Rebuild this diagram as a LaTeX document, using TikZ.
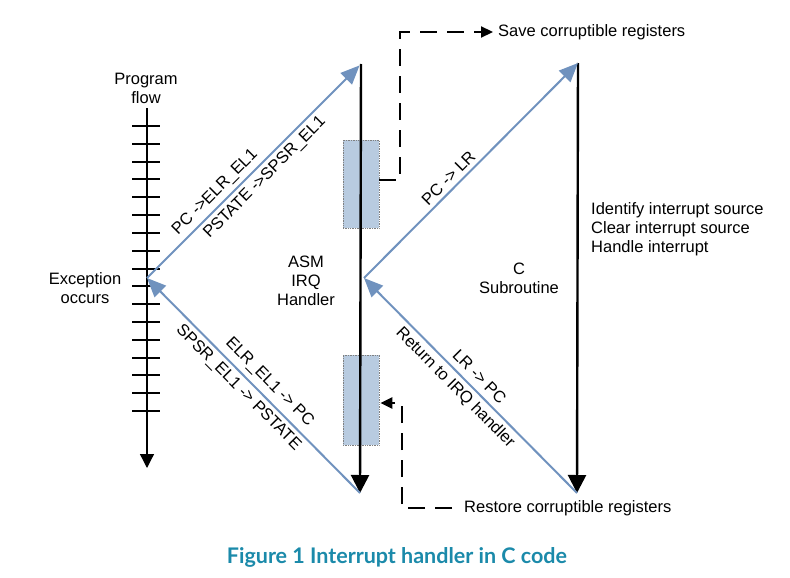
\documentclass[tikz,border=0pt]{standalone}
\usepackage{fontspec}
\setmainfont{Liberation Sans}
\newfontfamily\capfont{Lato}
\usetikzlibrary{arrows.meta}
\definecolor{flowblue}{RGB}{112,146,190}
\definecolor{boxblue}{RGB}{184,203,224}
\definecolor{capteal}{RGB}{27,138,170}
\tikzset{
  txt/.style={font=\fontsize{16.5}{19}\selectfont, inner sep=1pt},
  blueflow/.style={draw=flowblue, line width=2pt, >={Triangle[length=19pt,width=16pt]}},
  blackflow/.style={draw=black, line width=2.4pt, >={Triangle[length=18pt,width=18pt]}},
  tick/.style={line width=2pt},
  savebox/.style={fill=boxblue, draw=gray, densely dotted, line width=0.7pt},
  regflow/.style={line width=2.2pt, dash pattern=on 17pt off 10pt, -{Triangle[length=12pt,width=11pt]}},
}
\begin{document}
\begin{tikzpicture}[x=1pt, y=-1pt]
  \useasboundingbox (0,0) rectangle (790,578);
  % points
  \coordinate (flowtop) at (147,108);
  \coordinate (flowbot) at (147,468);
  \coordinate (exc) at (147,278);
  \coordinate (asmtop) at (361,64);
  \coordinate (asmbot) at (360,493);
  \coordinate (cret) at (364,278);
  \coordinate (ctop) at (578,63);
  \coordinate (cbot) at (577,493);
  % program flow
  \draw[blackflow, line width=1.3pt, >={Triangle[length=14pt,width=14pt]}, ->] (flowtop) -- (flowbot);
  \foreach \k in {0,...,16}
    \draw[tick] (132,{126+17.82*\k}) -- (160,{126+17.82*\k});
  \node[txt, align=center] (flowlbl) at (146,88) {Program\\flow};
  \node[txt, align=center] (exclbl) at (85,288) {Exception\\occurs};
  % save / restore boxes
  \node[savebox, minimum width=36pt, minimum height=88pt] (savebx) at (361,184) {};
  \node[savebox, minimum width=36pt, minimum height=90pt] (restbx) at (361,400) {};
  % asm handler
  \draw[blackflow, ->] (asmtop) -- (asmbot);
  \draw[blueflow, ->, shorten >=2pt] (exc) -- (asmtop)
    node[txt, pos=0.36, sloped, above=3pt] (pclbl) {PC ->ELR\_EL1}
    node[txt, pos=0.51, sloped, below=3pt] (pstlbl) {PSTATE ->SPSR\_EL1};
  \draw[blueflow, <-] (exc) -- (asmbot)
    node[txt, pos=0.53, sloped, above=4pt] (elrlbl) {ELR\_EL1 -> PC}
    node[txt, pos=0.47, sloped, below=3pt] (spsrlbl) {SPSR\_EL1 -> PSTATE};
  \node[txt, align=center] (asmlbl) at (306,281) {ASM\\IRQ\\Handler};
  % c subroutine
  \draw[blackflow, ->] (ctop) -- (cbot);
  \draw[blueflow, ->] (cret) -- (ctop)
    node[txt, pos=0.43, sloped, above=3pt] (lrlbl) {PC -> LR};
  \draw[blueflow, <-] (cret) -- (cbot)
    node[txt, pos=0.50, sloped, above=5pt] (pclbl2) {LR -> PC}
    node[txt, pos=0.47, sloped, below=3pt] (retlbl) {Return to IRQ handler};
  \node[txt, align=center] (clbl) at (519,278) {C\\Subroutine};
  \node[txt, align=left, anchor=west] (worklbl) at (590,229) {Identify interrupt source\\Clear interrupt source\\Handle interrupt};
  % registers
  \node[txt, anchor=west] (savelbl) at (497,32) {Save corruptible registers};
  \node[txt, anchor=west] (restlbl) at (463,508) {Restore corruptible registers};
  \draw[regflow] (savebx.east |- 0,180) -- (400,180) -- (400,32) -- ([xshift=-4pt]savelbl.west);
  \draw[regflow] (452,508) -- (402,508) -- (402,403) -- ([xshift=1pt]restbx.east |- 0,403);
  % caption
  \node[text=capteal, font=\capfont\bfseries\fontsize{21.5}{24}\selectfont] (caption) at (397,557) {Figure 1 Interrupt handler in C code};
\end{tikzpicture}
\end{document}
